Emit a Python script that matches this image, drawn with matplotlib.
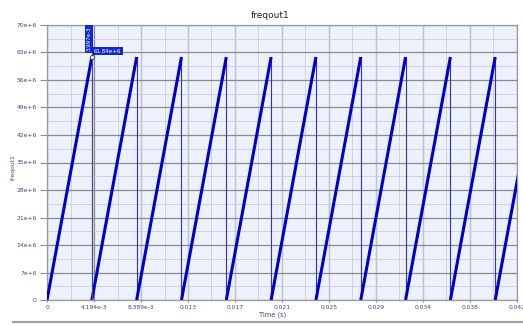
import matplotlib
matplotlib.use("Agg")
import matplotlib.pyplot as plt
from matplotlib.lines import Line2D
from matplotlib.ticker import MultipleLocator

# sawtooth segments (s, Hz)
ramp_start = [0.0, 0.004, 0.008, 0.012, 0.016, 0.020, 0.024, 0.028, 0.032, 0.036, 0.040]
ramp_end = [0.004, 0.008, 0.012, 0.016, 0.020, 0.024, 0.028, 0.032, 0.036, 0.040, 0.044]
ramp_low = [0, 0, 0, 0, 0, 0, 0, 0, 0, 0, 0]
ramp_peak = [61.84e6] * 11

x_ticks = [0, 4.194e-3, 8.389e-3, 12.583e-3, 16.777e-3, 20.972e-3,
           25.166e-3, 29.360e-3, 33.554e-3, 37.749e-3, 41.943e-3]
x_labels = ["0", "4.194e-3", "8.389e-3", "0.013", "0.017", "0.021",
            "0.025", "0.029", "0.034", "0.038", "0.042"]
y_ticks = [0, 7e6, 14e6, 21e6, 28e6, 35e6, 42e6, 49e6, 56e6, 63e6, 70e6]
y_labels = ["0", "7e+6", "14e+6", "21e+6", "28e+6", "35e+6",
            "42e+6", "49e+6", "56e+6", "63e+6", "70e+6"]

cursor_t = 0.004
cursor_v = 61.84e6

fig = plt.figure(figsize=(5.23, 3.25), dpi=100)
ax = fig.add_axes([0.0899, 0.0769, 0.8986, 0.8462])
ax.set_facecolor("#edf1fc")

for t0, t1, lo, hi in zip(ramp_start, ramp_end, ramp_low, ramp_peak):
    ax.plot([t0, t1], [lo, hi], color="#0000cc", lw=2.2, solid_capstyle="butt", zorder=4)
    ax.plot([t1, t1], [hi, lo], color="#3030c8", lw=0.8, zorder=3)

ax.set_xlim(0, x_ticks[-1])
ax.set_ylim(0, 70e6)
ax.set_xticks(x_ticks)
ax.set_xticklabels(x_labels)
ax.set_yticks(y_ticks)
ax.set_yticklabels(y_labels)
ax.xaxis.set_minor_locator(MultipleLocator(x_ticks[1] / 2))
ax.yaxis.set_minor_locator(MultipleLocator(3.5e6))

ax.grid(True, which="major", color="#8a8a8a", lw=0.9)
ax.grid(True, which="minor", color="#c9cde0", lw=0.6)
ax.set_axisbelow(True)
ax.tick_params(which="major", labelsize=4.3, colors="#8a8a8a", labelcolor="#3c4a80",
               width=0.8)
ax.tick_params(axis="y", which="major", length=5, pad=2.5)
ax.tick_params(axis="x", which="major", length=1.5, pad=2)
ax.tick_params(which="minor", length=0)
for s in ax.spines.values():
    s.set_color("#9a9a9a")
    s.set_linewidth(0.9)

ax.set_title("freqout1", fontsize=6.5, color="#222222", pad=5, x=0.474)
ax.set_xlabel("Time (s)", fontsize=4.8, color="#3c4a80")
ax.xaxis.set_label_coords(0.479, -0.042)
ax.set_ylabel("freqout1", fontsize=4.3, color="#3c4a80")
ax.yaxis.set_label_coords(-0.066, 0.484)

# cursor
ax.axvline(cursor_t, color="#4a4a7a", lw=0.8, zorder=5)
ax.plot([cursor_t], [cursor_v], "o", ms=3, mfc="white", mec="#444444", mew=0.7, zorder=6)
ax.text(cursor_t - 0.00003, 63.3e6, "3.997e-3", rotation=90, fontsize=4,
        color="white", ha="right", va="bottom", zorder=7,
        bbox=dict(boxstyle="square,pad=0.25", fc="#1428c8", ec="none"))
ax.text(cursor_t + 0.0002, cursor_v + 1.5e6, "61.84e+6", fontsize=4,
        color="white", ha="left", va="center", zorder=7,
        bbox=dict(boxstyle="square,pad=0.25", fc="#1428c8", ec="none"))

# window frame line below the plot
fig.add_artist(Line2D([0.025, 1.0], [0.008, 0.008], color="#a0a0a0", lw=1.5))

fig.savefig("out.png", dpi=100)
